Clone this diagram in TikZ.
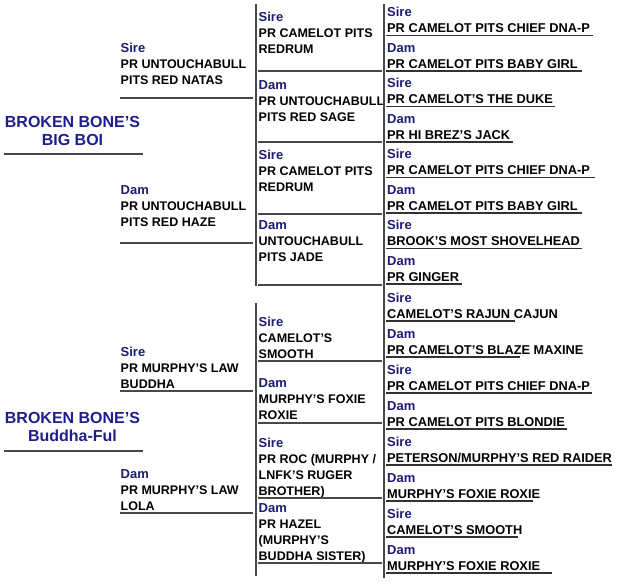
\documentclass[tikz,border=0pt]{standalone}
\usepackage{fontspec}
\setmainfont{Liberation Sans}
\definecolor{lab}{RGB}{28,28,115}
\definecolor{ttl}{RGB}{30,30,140}
\definecolor{rulec}{RGB}{72,72,72}
\definecolor{ulc}{RGB}{50,50,50}
\newcommand\lab[1]{{\color{lab}\fontsize{13}{16}\selectfont #1}}
% node positions below are given at the baseline of the LAST text line
\tikzset{
  cell/.style={anchor=base west, align=left, inner sep=0pt,
    font=\fontsize{12.5}{16}\selectfont\bfseries},
  gpcell/.style={cell, font=\fontsize{12.8}{16}\selectfont\bfseries},
  ttlnode/.style={anchor=base, align=center, inner sep=0pt, text=ttl,
    font=\fontsize{16}{18}\selectfont\bfseries},
  hrule/.style={draw=rulec, line width=1.4pt},
  vrule/.style={draw=rulec, line width=1.3pt},
  uline/.style={draw=ulc, line width=1.3pt}
}
% great-grandparent entry: name, row bottom, label, text, underline end
\newcommand\gp[5]{%
  \node[gpcell] (#1) at (387,#2-2.5) {\lab{#3}\\#4};
  \draw[uline] (386,#2) -- (#5,#2);}
\begin{document}
\begin{tikzpicture}[x=1pt,y=-1pt]
\useasboundingbox (0,0) rectangle (618,585);

% ---------- top pedigree ----------
\node[ttlnode] (top) at (72.5,146) {BROKEN BONE’S\\BIG BOI};
\draw[hrule] (4,154) -- (143,154);

\node[cell] (s) at (120.5,85) {\lab{Sire}\\PR UNTOUCHABULL\\PITS RED NATAS};
\draw[hrule] (120,98) -- (253,98);
\node[cell] (d) at (120.5,226.5) {\lab{Dam}\\PR UNTOUCHABULL\\PITS RED HAZE};
\draw[hrule] (120,243) -- (253,243);

\draw[vrule] (256,4) -- (256,286);
\node[cell] (ss) at (258.5,54) {\lab{Sire}\\PR CAMELOT PITS\\REDRUM};
\draw[hrule] (258,71) -- (382,71);
\node[cell] (sd) at (258.5,122) {\lab{Dam}\\PR UNTOUCHABULL\\PITS RED SAGE};
\draw[hrule] (258,142) -- (382,142);
\node[cell] (ds) at (258.5,191.5) {\lab{Sire}\\PR CAMELOT PITS\\REDRUM};
\draw[hrule] (258,214) -- (382,214);
\node[cell] (dd) at (258.5,261.5) {\lab{Dam}\\UNTOUCHABULL\\PITS JADE};
\draw[hrule] (258,285) -- (382,285);

\draw[vrule] (384,4) -- (384,578);
\gp{sss}{35.5}{Sire}{PR CAMELOT PITS CHIEF DNA-P}{593}
\gp{ssd}{71}{Dam}{PR CAMELOT PITS BABY GIRL}{582}
\gp{sds}{106.5}{Sire}{PR CAMELOT’S THE DUKE}{555}
\gp{sdd}{142}{Dam}{PR HI BREZ’S JACK}{513}
\gp{dss}{177.5}{Sire}{PR CAMELOT PITS CHIEF DNA-P}{595}
\gp{dsd}{213}{Dam}{PR CAMELOT PITS BABY GIRL}{582}
\gp{dds}{248.5}{Sire}{BROOK’S MOST SHOVELHEAD}{582}
\gp{ddd}{284}{Dam}{PR GINGER}{462}

% ---------- bottom pedigree ----------
\node[ttlnode] (bot) at (72.5,441) {BROKEN BONE’S\\Buddha-Ful};
\draw[hrule] (4,451) -- (143,451);

\node[cell] (bs) at (120.5,388) {\lab{Sire}\\PR MURPHY’S LAW\\BUDDHA};
\draw[hrule] (120,391) -- (253,391);
\node[cell] (bd) at (120.5,510) {\lab{Dam}\\PR MURPHY’S LAW\\LOLA};
\draw[hrule] (120,513) -- (253,513);

\draw[vrule] (256,303) -- (256,576);
\node[cell] (bss) at (258.5,358) {\lab{Sire}\\CAMELOT’S\\SMOOTH};
\draw[hrule] (258,361) -- (382,361);
\node[cell] (bsd) at (258.5,419) {\lab{Dam}\\MURPHY’S FOXIE\\ROXIE};
\draw[hrule] (258,423) -- (382,423);
\node[cell] (bds) at (258.5,495) {\lab{Sire}\\PR ROC (MURPHY /\\LNFK’S RUGER\\BROTHER)};
\draw[hrule] (258,498) -- (382,498);
\node[cell] (bdd) at (258.5,560) {\lab{Dam}\\PR HAZEL\\(MURPHY’S\\BUDDHA SISTER)};
\draw[hrule] (258,563) -- (382,563);

\gp{bsss}{321}{Sire}{CAMELOT’S RAJUN CAJUN}{515}
\gp{bssd}{357}{Dam}{PR CAMELOT’S BLAZE MAXINE}{520}
\gp{bsds}{393}{Sire}{PR CAMELOT PITS CHIEF DNA-P}{592}
\gp{bsdd}{429}{Dam}{PR CAMELOT PITS BLONDIE}{567}
\gp{bdss}{465}{Sire}{PETERSON/MURPHY’S RED RAIDER}{612}
\gp{bdsd}{501}{Dam}{MURPHY’S FOXIE ROXIE}{533}
\gp{bdds}{537}{Sire}{CAMELOT’S SMOOTH}{518}
\gp{bddd}{573}{Dam}{MURPHY’S FOXIE ROXIE}{552}
\end{tikzpicture}
\end{document}
